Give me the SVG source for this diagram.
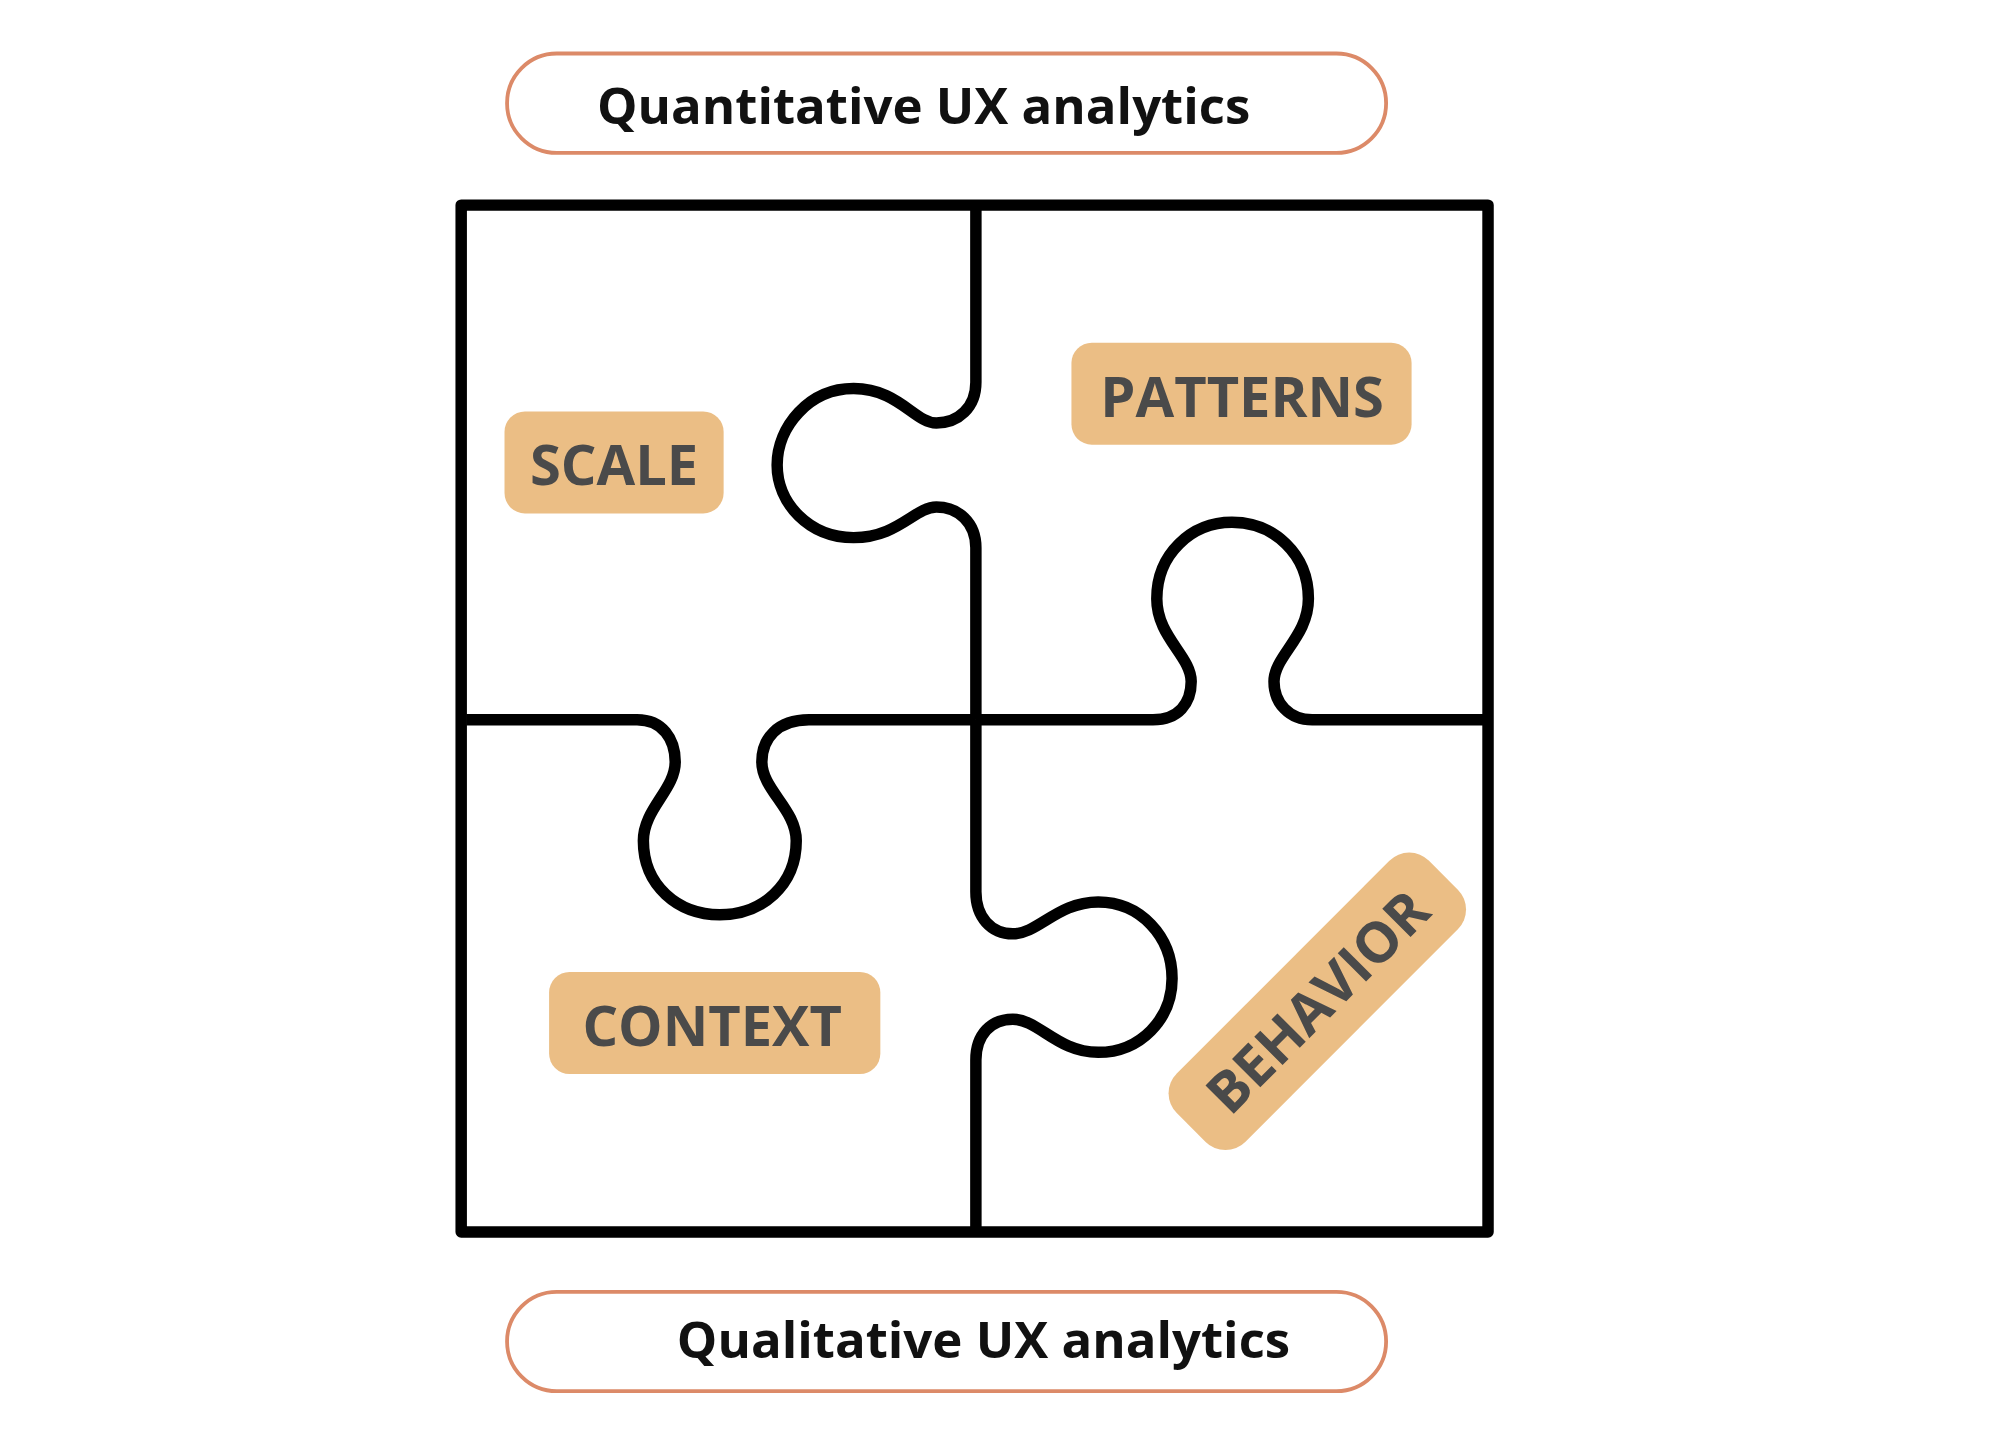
<svg xmlns="http://www.w3.org/2000/svg" width="1999" height="1450" viewBox="0 0 1999 1450">
<style>
.pill{fill:#fff;stroke:#dc8a68;stroke-width:3}
.ht{font-family:"Open Sans",sans-serif;font-weight:700;font-size:40px;fill:#111}
.tag{fill:#ebbe85}
.tt{font-family:"Open Sans",sans-serif;font-weight:700;font-size:44px;fill:#4a4a4a;text-anchor:middle}
.ln{fill:none;stroke:#000;stroke-width:9;stroke-linejoin:round}
</style>
<rect width="1999" height="1450" fill="#fff"/>
<g transform="scale(1.274)">
<g id="top"><rect class="pill" x="398" y="42" width="690" height="78" rx="39"/><text class="ht" x="725" y="97" text-anchor="middle">Quantitative UX analytics</text></g>
<g id="bottom"><rect class="pill" x="398" y="1014" width="690" height="78" rx="39"/><text class="ht" x="772" y="1066" text-anchor="middle">Qualitative UX analytics</text></g>
<g id="connectors">
<rect class="ln" x="362" y="161" width="806" height="806"/>
<path class="ln" d="M766,161 V300 C766,320 752,332 735,332 C718,332 705,305 670,305 C635,305 610,335 610,365 C610,395 635,422 670,422 C705,422 718,398 735,398 C752,398 766,410 766,430 V565"/>
<path class="ln" d="M766,565 H905 C925,565 935,552 935,535 C935,515 908,500 908,470 C908,435 935,410 967,410 C1000,410 1027,435 1027,470 C1027,500 1000,515 1000,535 C1000,552 1012,565 1030,565 H1168"/>
<path class="ln" d="M366,565 H500 C520,565 530,580 530,598 C530,620 505,635 505,660 C505,695 532,718 565,718 C598,718 625,695 625,660 C625,635 598,620 598,598 C598,580 610,565 635,565 H766"/>
<path class="ln" d="M766,565 V700 C766,720 778,733 795,733 C815,733 830,708 862,708 C895,708 920,735 920,768 C920,800 895,826 862,826 C830,826 815,800 795,800 C778,800 766,812 766,832 V968"/>
</g>
<g id="scale"><rect class="tag" x="396" y="323" width="172" height="80" rx="16"/><text class="tt" x="482" y="381">SCALE</text></g>
<g id="patterns"><rect class="tag" x="841" y="269" width="267" height="80" rx="16"/><text class="tt" x="975" y="327">PATTERNS</text></g>
<g id="context"><rect class="tag" x="431" y="763" width="260" height="80" rx="16"/><text class="tt" x="559" y="821">CONTEXT</text></g>
<g id="behavior" transform="translate(1034,786) rotate(-45)"><rect class="tag" x="-140" y="-38" width="280" height="76" rx="22"/><text class="tt" x="0" y="16">BEHAVIOR</text></g>
</g>
</svg>
